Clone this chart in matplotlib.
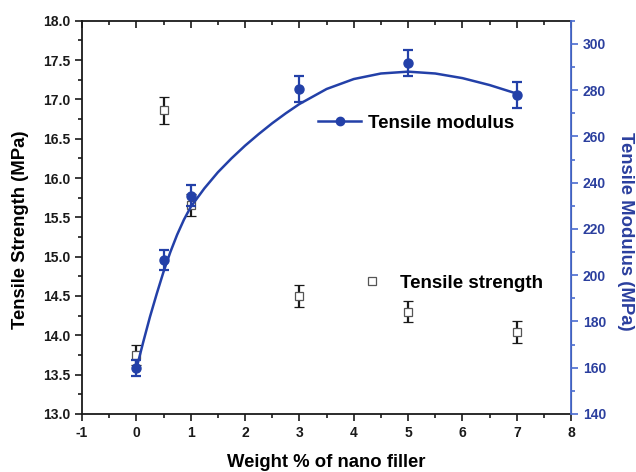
import numpy as np
import matplotlib.pyplot as plt
from matplotlib.lines import Line2D
from matplotlib.ticker import MultipleLocator

plt.rcParams['font.family'] = ['Liberation Sans', 'DejaVu Sans']
plt.rcParams['font.weight'] = 'bold'
plt.rcParams['axes.labelweight'] = 'bold'
plt.rcParams['axes.unicode_minus'] = False

# data
filler = [0, 0.5, 1, 3, 5, 7]
strength = [13.75, 16.86, 15.66, 14.50, 14.30, 14.04]
strength_err = [0.13, 0.17, 0.14, 0.14, 0.13, 0.14]
modulus = [159.8, 206.4, 234.4, 280.5, 291.7, 277.9]
modulus_err = [3.5, 4.3, 4.6, 5.5, 5.7, 5.6]

# fitted curve
fit_x = [0, 0.125, 0.25, 0.375, 0.5, 0.625, 0.75, 0.875, 1, 1.25, 1.5, 1.75,
         2, 2.25, 2.5, 2.75, 3, 3.5, 4, 4.5, 5, 5.5, 6, 6.5, 7]
fit_y = [159.5, 171, 182, 192, 201.5, 210, 217.5, 224, 229.5, 237.5, 244.5,
         250.5, 256, 261, 265.7, 270, 274, 280.5, 284.8, 287.2, 288, 287.2,
         285.2, 282.2, 278.5]

blue = '#2340a8'
spine_blue = '#4a6cd0'
label_blue = '#2b3f9e'

fig = plt.figure(figsize=(6.36, 4.72), dpi=100)
ax = fig.add_axes([0.129, 0.123, 0.769, 0.833])
ax2 = ax.twinx()

# tensile strength (left axis)
ax.errorbar(filler, strength, yerr=strength_err, fmt='s', ms=5.5, mfc='white',
            mec='#555555', mew=0.9, ecolor='#1a1a1a', elinewidth=1.6,
            capsize=3.5, capthick=1.6, zorder=3)

# tensile modulus (right axis)
ax2.plot(fit_x, fit_y, color=blue, lw=1.8, zorder=2)
ax2.errorbar(filler, modulus, yerr=modulus_err, fmt='o', ms=6.5, color=blue,
             elinewidth=1.6, capsize=3.5, capthick=1.6, zorder=3)

ax.set_xlim(-1, 8)
ax.set_ylim(13.0, 18.0)
ax2.set_ylim(140, 310)

ax.xaxis.set_major_locator(MultipleLocator(1))
ax.xaxis.set_minor_locator(MultipleLocator(0.5))
ax.yaxis.set_major_locator(MultipleLocator(0.5))
ax.yaxis.set_minor_locator(MultipleLocator(0.25))
ax2.yaxis.set_major_locator(MultipleLocator(20))
ax2.yaxis.set_minor_locator(MultipleLocator(10))

ax.tick_params(axis='both', which='both', direction='out', labelsize=10,
               width=1.2, colors='#1a1a1a')
ax.tick_params(axis='both', which='major', length=5)
ax.tick_params(axis='both', which='minor', length=3)
ax.tick_params(axis='x', which='both', top=True)
# top ticks point inward
for t in ax.xaxis.get_major_ticks() + ax.xaxis.get_minor_ticks():
    t.tick2line.set_marker(3)

ax2.tick_params(axis='y', which='both', direction='out', labelsize=10, width=1.2,
                colors=spine_blue, labelcolor=label_blue)
ax2.tick_params(axis='y', which='major', length=5)
ax2.tick_params(axis='y', which='minor', length=3)

for s in ['left', 'bottom', 'top']:
    ax.spines[s].set_linewidth(1.3)
    ax.spines[s].set_color('#1a1a1a')
ax2.spines['right'].set_color(spine_blue)
ax2.spines['right'].set_linewidth(1.3)
ax2.spines['left'].set_visible(False)
ax2.spines['top'].set_visible(False)
ax2.spines['bottom'].set_visible(False)

ax.set_xlabel('Weight % of nano filler', fontsize=13.3, labelpad=10)
ax.set_ylabel('Tensile Strength (MPa)', fontsize=13.3)
ax2.set_ylabel('Tensile Modulus (MPa)', fontsize=13.3, color=label_blue,
               rotation=270)
# labels sit a little below the axes centre in the reference
ax.yaxis.set_label_coords(-0.109, 0.468)
ax2.yaxis.set_label_coords(1.128, 0.465)

mod_handle = Line2D([], [], color=blue, lw=1.8, marker='o', ms=6)
str_handle = Line2D([], [], ls='none', marker='s', ms=5.5, mfc='white',
                    mec='#555555', mew=0.9)
leg1 = ax2.legend([mod_handle], ['Tensile modulus'], loc='center left',
                  bbox_to_anchor=(0.483, 0.740), frameon=False, fontsize=13.5,
                  handlelength=2.3, handletextpad=0.35, borderpad=0,
                  borderaxespad=0)
leg2 = ax2.legend([str_handle], ['Tensile strength'], loc='center left',
                  bbox_to_anchor=(0.555, 0.333), frameon=False, fontsize=13.5,
                  handlelength=2.0, handletextpad=0.5, borderpad=0,
                  borderaxespad=0)
ax2.add_artist(leg1)

fig.savefig('out.png', dpi=100)
